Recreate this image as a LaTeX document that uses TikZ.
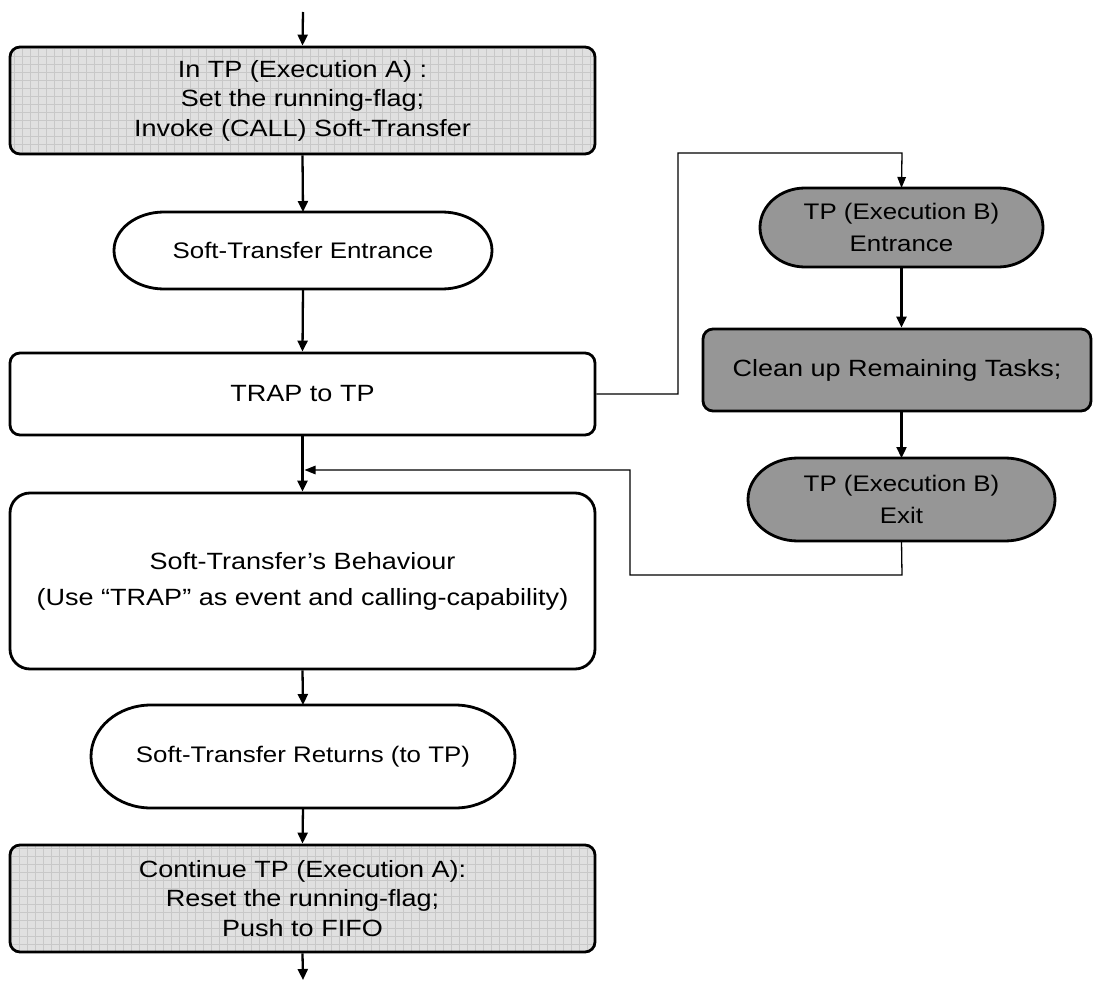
\documentclass[tikz,border=0pt]{standalone}
\usepackage{fontspec}
\setmainfont{Liberation Sans}[FakeStretch=1.15]
\usetikzlibrary{arrows.meta,backgrounds,calc}

\definecolor{lightfill}{RGB}{224,224,224}
\definecolor{gridc}{RGB}{200,200,200}
\definecolor{darkfill}{RGB}{150,150,150}

\tikzset{
  base/.style={align=center, inner sep=0pt, line width=2.8pt},
  recttext/.style={font=\fontsize{23.5}{29.5}\selectfont},
  pilltext/.style={font=\fontsize{22.5}{31.7}\selectfont},
  lightbox/.style={base, recttext, draw, rounded corners=10pt, fill=lightfill,
    path picture={\draw[gridc, line width=0.5pt]
      (path picture bounding box.south west) grid[step=8pt] (path picture bounding box.north east);}},
  whitebox/.style={base, recttext, draw, fill=white},
  darkbox/.style={base, recttext, draw, rounded corners=10pt, fill=darkfill},
  pillnode/.style={base, pilltext, outer sep=0pt},
  pillline/.style={line width=2.8pt, draw=black},
  mainarrow/.style={line width=2.3pt, -{Triangle[length=11pt,width=10pt]}},
  thinarrow/.style={line width=1.3pt, -{Triangle[length=11pt,width=8.5pt]}},
}

% pill outline: #1 node, #2 x radius, #3 y radius, #4 fill
\newcommand\drawpill[4]{%
  \filldraw[pillline, fill=#4]
    ($(#1.north west)+(#2pt,0)$) -- ($(#1.north east)+(-#2pt,0)$)
    arc[start angle=90, end angle=-90, x radius=#2pt, y radius=#3pt]
    -- ($(#1.south west)+(#2pt,0)$)
    arc[start angle=270, end angle=90, x radius=#2pt, y radius=#3pt]
    -- cycle;}

\begin{document}
\begin{tikzpicture}[x=1pt,y=-1pt]
\useasboundingbox (0,0) rectangle (1093,982);

% left column
\node[lightbox, minimum width=585pt, minimum height=107pt] (a) at (302.5,100.5)
  {In TP (Execution A) :\\Set the running-flag;\\Invoke (CALL) Soft-Transfer};
\node[pillnode, minimum width=378pt, minimum height=77pt] (ent) at (303,250.5)
  {Soft-Transfer Entrance};
\node[whitebox, rounded corners=10pt, minimum width=585pt, minimum height=82pt] (trap) at (302.5,394)
  {TRAP to TP};
\node[whitebox, rounded corners=20pt, minimum width=585pt, minimum height=176pt,
      font=\fontsize{23.5}{36}\selectfont] (beh) at (302.5,581)
  {Soft-Transfer’s Behaviour\\(Use “TRAP” as event and calling-capability)};
\node[pillnode, minimum width=424pt, minimum height=103pt] (ret) at (303,756.5)
  {Soft-Transfer Returns (to TP)};
\node[lightbox, minimum width=585pt, minimum height=107pt] (c) at (302.5,898.5)
  {Continue TP (Execution A):\\Reset the running-flag;\\Push to FIFO};

% right column
\node[pillnode, minimum width=283pt, minimum height=79pt] (bent) at (901.5,227.5)
  {TP (Execution B)\\Entrance};
\node[darkbox, minimum width=388pt, minimum height=82pt] (clean) at (897,370)
  {Clean up Remaining Tasks;};
\node[pillnode, minimum width=307pt, minimum height=83pt] (bexit) at (901.5,499.5)
  {TP (Execution B)\\Exit};

\begin{scope}[on background layer]
  \drawpill{ent}{50}{38.5}{white}
  \drawpill{ret}{60}{51.5}{white}
  \drawpill{bent}{45}{39.5}{darkfill}
  \drawpill{bexit}{50}{41.5}{darkfill}
\end{scope}

% free ends and bends
\coordinate (top) at (303,12);
\coordinate (bottom) at (303,980);
\coordinate (r1) at (678,394);
\coordinate (r2) at (678,153);
\coordinate (r3) at (902,153);
\coordinate (f1) at (902,575);
\coordinate (f2) at (630,575);
\coordinate (f3) at (630,470);
\coordinate (f4) at (304.5,470);

% main flow
\draw[mainarrow] (top) -- (a.north);
\draw[mainarrow] (a.south) -- (ent.north);
\draw[mainarrow] (ent.south) -- (trap.north);
\draw[mainarrow] (trap.south) -- (beh.north);
\draw[mainarrow] (beh.south) -- (ret.north);
\draw[mainarrow] (ret.south) -- (c.north);
\draw[mainarrow] (c.south) -- (bottom);

% side branch
\draw[thinarrow] (trap.east) -- (r1) -- (r2) -- (r3) -- (bent.north);
\draw[mainarrow] (bent.south) -- (bent.south |- clean.north);
\draw[mainarrow] (bent.south |- clean.south) -- (bexit.north);
\draw[thinarrow] (bexit.south) -- (f1) -- (f2) -- (f3) -- (f4);
\end{tikzpicture}
\end{document}
